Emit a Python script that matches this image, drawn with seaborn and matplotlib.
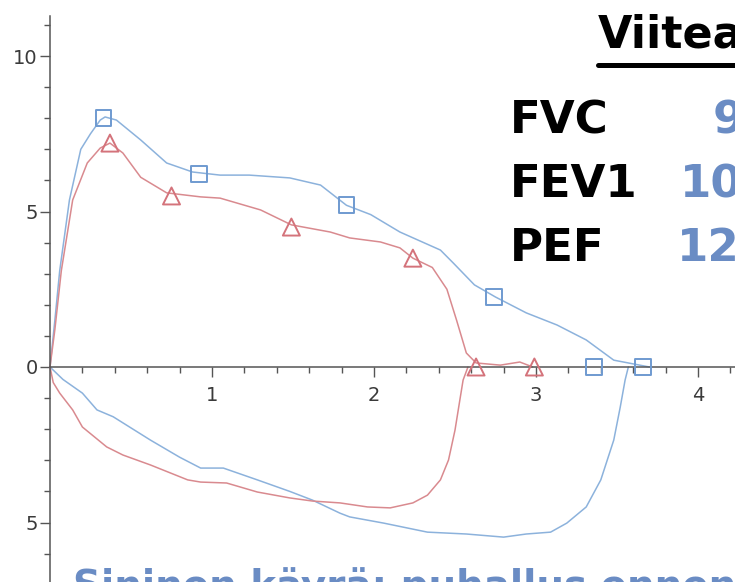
"""
Spirometria: virtaus-tilavuuskäyrä ennen ja jälkeen lääkkeen
"""
import numpy as np
import pandas as pd
import matplotlib
matplotlib.use('Agg')
import matplotlib.pyplot as plt
from matplotlib.lines import Line2D
from matplotlib.ticker import FixedLocator, FuncFormatter
import seaborn as sns

# sininen käyrä, uloshengitys (tilavuus L, virtaus L/s)
blue_exp_x = [0, 0.03, 0.06, 0.12, 0.19, 0.25, 0.31, 0.34, 0.41, 0.56, 0.72, 0.88, 1.05, 1.23,
              1.48, 1.67, 1.83, 1.98, 2.16, 2.41, 2.49, 2.62, 2.75, 2.94, 3.13, 3.31, 3.48, 3.64, 3.70]
blue_exp_y = [0, 1.5, 3.1, 5.37, 7.0, 7.5, 7.94, 8.04, 7.94, 7.3, 6.56, 6.27, 6.17, 6.17,
              6.08, 5.85, 5.2, 4.9, 4.34, 3.76, 3.34, 2.64, 2.25, 1.74, 1.35, 0.87, 0.22, 0.06, 0]
# sininen käyrä, sisäänhengitys (negatiivinen virtaus)
blue_insp_x = [0, 0.08, 0.2, 0.29, 0.39, 0.62, 0.8, 0.93, 1.07, 1.28, 1.48, 1.62, 1.79, 1.85,
               2.06, 2.33, 2.57, 2.8, 2.94, 3.09, 3.19, 3.31, 3.4, 3.48, 3.52, 3.55, 3.57]
blue_insp_y = [0, -0.4, -0.84, -1.38, -1.6, -2.35, -2.9, -3.25, -3.25, -3.63, -4.0, -4.28, -4.7, -4.82,
               -5.02, -5.31, -5.37, -5.47, -5.37, -5.31, -5.02, -4.5, -3.63, -2.35, -1.29, -0.42, 0]

# punainen käyrä
red_exp_x = [0, 0.03, 0.07, 0.14, 0.23, 0.31, 0.37, 0.45, 0.56, 0.72, 0.93, 1.05, 1.3, 1.49,
             1.73, 1.85, 2.04, 2.16, 2.24, 2.36, 2.45, 2.51, 2.57, 2.63, 2.78, 2.9, 2.98]
red_exp_y = [0, 1.2, 3.1, 5.37, 6.56, 7.04, 7.2, 6.88, 6.1, 5.6, 5.47, 5.43, 5.05, 4.57,
             4.34, 4.15, 4.02, 3.83, 3.5, 3.2, 2.5, 1.5, 0.45, 0.13, 0.06, 0.16, 0]
red_insp_x = [0, 0.02, 0.06, 0.14, 0.2, 0.35, 0.45, 0.62, 0.85, 0.93, 1.09, 1.28, 1.48, 1.62,
              1.79, 1.96, 2.1, 2.24, 2.33, 2.41, 2.46, 2.5, 2.53, 2.55, 2.58]
red_insp_y = [0, -0.5, -0.84, -1.38, -1.93, -2.57, -2.83, -3.15, -3.63, -3.7, -3.73, -4.02, -4.21, -4.31,
              -4.37, -4.5, -4.53, -4.37, -4.12, -3.63, -2.99, -2.03, -1.06, -0.42, 0]

# aikamerkit
blue_mark_x = [0.33, 0.92, 1.83, 2.74, 3.36, 3.66]
blue_mark_y = [8.0, 6.2, 5.2, 2.25, 0, 0]
red_mark_x = [0.37, 0.75, 1.49, 2.24, 2.63, 2.99]
red_mark_y = [7.2, 5.5, 4.5, 3.5, 0, 0]

# tekstit
table_labels = ['FVC', 'FEV1', 'PEF']
table_values = ['9', '10', '12']

BLUE_LINE = '#8cb2dc'
BLUE_MARK = '#6f9ad0'
RED_LINE = '#d98a8f'
RED_MARK = '#d4737b'
TEXT_BLUE = '#6a8cc4'

sns.set_theme(style='white')
plt.rcParams['font.family'] = ['DejaVu Sans']

W, H = 735, 582
fig = plt.figure(figsize=(W / 100, H / 100), dpi=100)
ax = fig.add_axes([0, 0, 1, 1])
ax.set_xlim(-50 / 162, 685 / 162)
ax.set_ylim(-215 / 31.1, 367 / 31.1)

curves = [(blue_exp_x, blue_exp_y, BLUE_LINE), (blue_insp_x, blue_insp_y, BLUE_LINE),
          (red_exp_x, red_exp_y, RED_LINE), (red_insp_x, red_insp_y, RED_LINE)]
for cx, cy, col in curves:
    sns.lineplot(x=cx, y=cy, sort=False, estimator=None, color=col, lw=1.1, ax=ax)

sns.scatterplot(x=blue_mark_x, y=blue_mark_y, marker='s', s=130, fc='none', ec=BLUE_MARK,
                linewidth=1.4, ax=ax, zorder=5)
sns.scatterplot(x=red_mark_x, y=red_mark_y, marker='^', s=150, fc='none', ec=RED_MARK,
                linewidth=1.4, ax=ax, zorder=5)

# akselit origon kautta
for side in ['top', 'right']:
    ax.spines[side].set_visible(False)
ax.spines['left'].set_position(('data', 0))
ax.spines['bottom'].set_position(('data', 0))
ax.spines['left'].set_bounds(-7, 11.3)
ax.spines['bottom'].set_bounds(0, 4.3)
for side in ['left', 'bottom']:
    ax.spines[side].set_color('#555555')
    ax.spines[side].set_linewidth(1.1)

ax.xaxis.set_major_locator(FixedLocator([1, 2, 3, 4]))
ax.xaxis.set_minor_locator(FixedLocator(np.arange(0.2, 4.3, 0.2)))
ax.yaxis.set_major_locator(FixedLocator([-5, 0, 5, 10]))
ax.yaxis.set_minor_locator(FixedLocator(np.arange(-6, 12, 1)))
ax.yaxis.set_major_formatter(FuncFormatter(lambda v, p: f'{abs(v):g}'))
ax.tick_params(axis='both', which='major', direction='out', length=7, width=1,
               colors='#555555', labelcolor='#3a3a3a', labelsize=14)
ax.tick_params(axis='both', which='minor', direction='out', length=4, width=1, colors='#555555')
ax.tick_params(axis='x', which='major', pad=7, bottom=True)
ax.tick_params(axis='x', which='minor', bottom=True)
ax.tick_params(axis='y', which='both', left=True, pad=2)
ax.grid(False)


def fx(px):
    return px / W


def fy(py):
    return 1 - py / H


# otsikko ja taulukko
fig.text(fx(598), fy(48), 'Viitea', fontsize=32, fontweight='bold', color='black', va='baseline')
fig.add_artist(Line2D([fx(598), fx(740)], [fy(64.5), fy(64.5)], color='black', lw=3.6))

rows_y = [133, 197, 261]
value_x = [713, 680, 677]
for lab, val, by, vx in zip(table_labels, table_values, rows_y, value_x):
    fig.text(fx(510), fy(by), lab, fontsize=32.5, fontweight='bold', color='black', va='baseline')
    fig.text(fx(vx), fy(by), val, fontsize=32.5, fontweight='bold', color=TEXT_BLUE, va='baseline')

fig.text(fx(73), fy(598), 'Sininen käyrä: puhallus ennen', fontsize=28, fontweight='bold',
         color=TEXT_BLUE, va='baseline')

fig.savefig('out.png', dpi=100)
